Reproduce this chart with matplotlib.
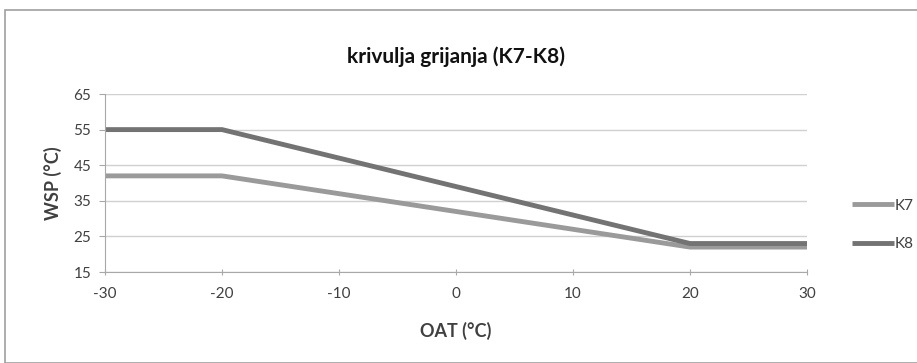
import matplotlib.pyplot as plt
from matplotlib.patches import Rectangle

oat = [-30, -20, 20, 30]
k7 = [42, 42, 22, 22]
k8 = [55, 55, 23, 23]
x_ticks = [-30, -20, -10, 0, 10, 20, 30]
y_ticks = [15, 25, 35, 45, 55, 65]

plt.rcParams['font.family'] = ['Lato', 'DejaVu Sans']
plt.rcParams['axes.unicode_minus'] = False

fig = plt.figure(figsize=(9.17, 3.63), dpi=100)
# outer chart border
fig.patches.append(Rectangle((5 / 917, 0), 1, 1 - 10 / 363, transform=fig.transFigure,
                             fill=False, edgecolor='#a0a0a0', linewidth=1.2))

ax = fig.add_axes([105 / 917, 1 - 272 / 363, (807 - 105) / 917, (272 - 94) / 363])
ax.plot(oat, k7, color='#9a9a9a', linewidth=3.5, label='K7', solid_capstyle='butt')
ax.plot(oat, k8, color='#737373', linewidth=3.5, label='K8', solid_capstyle='butt')

ax.set_xlim(-30, 30)
ax.set_ylim(15, 65)
ax.set_xticks(x_ticks)
ax.set_yticks(y_ticks)
ax.grid(axis='y', color='#d0d0d0', linewidth=1)
ax.set_axisbelow(True)
for s in ['top', 'right']:
    ax.spines[s].set_visible(False)
for s in ['left', 'bottom']:
    ax.spines[s].set_color('#a8a8a8')
ax.tick_params(colors='#a8a8a8', labelcolor='#404040', labelsize=11, length=4)
ax.tick_params(axis='x', direction='inout', pad=9)
ax.tick_params(axis='y', direction='out', pad=6)

ax.set_xlabel('OAT (°C)', fontsize=13, fontweight='bold', color='#404040', labelpad=15)
ax.set_ylabel('WSP (°C)', fontsize=13, fontweight='bold', color='#404040', labelpad=8)
fig.text(0.497, 1 - 57 / 363, 'krivulja grijanja (K7-K8)', ha='center', va='center',
         fontsize=15, fontweight='bold', color='#111111')

ax.legend(loc='center left', bbox_to_anchor=(1.045, 0.265), frameon=False, fontsize=11,
          handlelength=2.7, handletextpad=0.1, labelspacing=1.6, labelcolor='#404040')

fig.savefig('out.png', dpi=100)
